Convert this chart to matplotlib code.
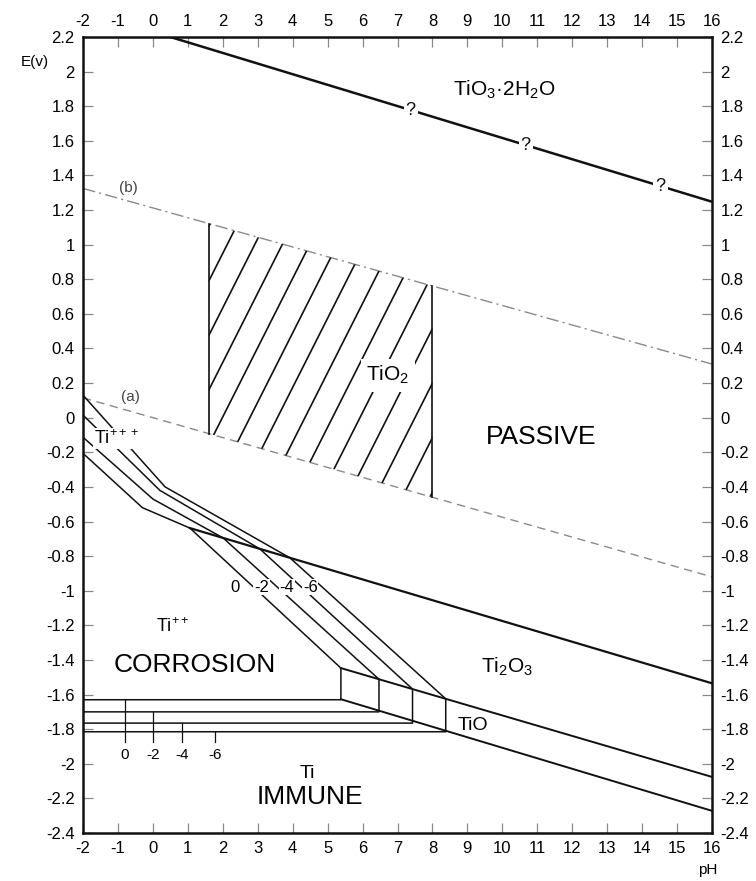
import matplotlib
matplotlib.use("Agg")
import matplotlib.pyplot as plt
import numpy as np
from matplotlib.patches import Polygon

plt.rcParams['font.family'] = ['Liberation Sans', 'DejaVu Sans']
plt.rcParams['axes.unicode_minus'] = False
plt.rcParams['mathtext.fontset'] = 'custom'
plt.rcParams['mathtext.rm'] = 'Liberation Sans'
plt.rcParams['mathtext.it'] = 'Liberation Sans'

# axes
ph_ticks = list(range(-2, 17))
e_ticks = [round(2.2 - 0.2 * i, 1) for i in range(24)]

# water lines (a) and (b)
line_a_ph = [-2, 16]
line_a_e = [0.115, -0.92]
line_b_ph = [-2, 16]
line_b_e = [1.325, 0.31]

# TiO3.2H2O boundary, with "?" marks
top_ph = [0.5, 16]
top_e = [2.2, 1.248]
q_ph = [7.38, 10.67, 14.52]

# hatched TiO2 zone limits
hatch_ph = [1.6, 8.0]

# Ti2O3 / TiO2 boundary
ti2o3_ph = [1.06, 16]
ti2o3_e = [-0.638, -1.535]

# TiO strip
tio_up_ph = [5.38, 16]
tio_up_e = [-1.447, -2.076]
tio_lo_ph = [5.38, 16]
tio_lo_e = [-1.627, -2.272]

# concentration lines, log c = 0, -2, -4, -6
conc = ['0', '-2', '-4', '-6']
c_start_e = [-0.206, -0.113, 0.015, 0.13]
c_kink_ph = [-0.3, 0.0, 0.2, 0.35]
c_kink_e = [-0.52, -0.47, -0.42, -0.40]
c_cross_ph = [1.06, 2.01, 3.06, 3.92]
c_vert_ph = [5.38, 6.47, 7.43, 8.38]
c_horiz_e = [-1.63, -1.70, -1.765, -1.815]
c_tick_ph = [-0.8, 0.0, 0.83, 1.78]
c_lab_ph = [2.35, 3.11, 3.83, 4.50]
c_lab_e = -0.98


def at(ph, xs, ys):
    return float(np.interp(ph, xs, ys))


fig = plt.figure(figsize=(7.56, 8.81), dpi=100)
ax = fig.add_axes([0.1098, 0.0545, 0.832, 0.9035])
ax.set_xlim(-2, 16)
ax.set_ylim(-2.4, 2.2)

black = '#111111'
grey = '#8a8a8a'

# top line
ax.plot(top_ph, top_e, color=black, lw=1.8, solid_capstyle='butt')
for q in q_ph:
    ax.text(q, at(q, top_ph, top_e), '?', ha='center', va='center', fontsize=13,
            color=black, bbox=dict(fc='white', ec='none', pad=1.5))

# water lines
ax.plot(line_b_ph, line_b_e, color=grey, lw=1.0, ls=(0, (9, 3, 1.5, 3)))
ax.plot(line_a_ph, line_a_e, color=grey, lw=1.0, ls=(0, (6, 4)))

# hatched TiO2 zone
x0, x1 = hatch_ph
poly = Polygon([(x0, at(x0, line_a_ph, line_a_e)), (x0, at(x0, line_b_ph, line_b_e)),
                (x1, at(x1, line_b_ph, line_b_e)), (x1, at(x1, line_a_ph, line_a_e))],
               closed=True, fc='none', ec='none')
ax.add_patch(poly)
for xv in hatch_ph:
    ax.plot([xv, xv], [at(xv, line_a_ph, line_a_e), at(xv, line_b_ph, line_b_e)],
            color=black, lw=1.2)
hx = np.array([x0, x1])
for k in range(-12, 5):
    ln, = ax.plot(hx, 0.16 + 0.315 * k + 0.40 * (hx - x0), color=black, lw=1.2)
    ln.set_clip_path(poly)

# Ti2O3 / TiO2 boundary
ax.plot(ti2o3_ph, ti2o3_e, color=black, lw=1.6)

# TiO strip
ax.plot(tio_up_ph, tio_up_e, color=black, lw=1.4)
ax.plot(tio_lo_ph, tio_lo_e, color=black, lw=1.4)

# concentration lines
for i in range(4):
    xc = c_cross_ph[i]
    xv = c_vert_ph[i]
    xs = [-2, c_kink_ph[i], xc, xv, xv, -2]
    ys = [c_start_e[i], c_kink_e[i], at(xc, ti2o3_ph, ti2o3_e),
          at(xv, tio_up_ph, tio_up_e), c_horiz_e[i], c_horiz_e[i]]
    ax.plot(xs, ys, color=black, lw=1.1)
    ax.plot([c_tick_ph[i], c_tick_ph[i]], [c_horiz_e[i], -1.875], color=black, lw=0.9)
    ax.text(c_tick_ph[i], -1.95, conc[i], ha='center', va='center', fontsize=11)
    ax.text(c_lab_ph[i], c_lab_e, conc[i], ha='center', va='center', fontsize=12,
            bbox=dict(fc='white', ec='none', pad=0.5))

# labels
ax.text(-0.71, 1.33, '(b)', ha='center', va='center', fontsize=11, color='#444444')
ax.text(-0.65, 0.12, '(a)', ha='center', va='center', fontsize=11, color='#444444')
ax.text(10.06, 1.895, 'TiO$_3$\u00b72H$_2$O', ha='center', va='center', fontsize=15)
ax.text(6.73, 0.245, 'TiO$_2$', ha='center', va='center', fontsize=15,
        bbox=dict(fc='white', ec='none', pad=4))
ax.text(11.1, -0.11, 'PASSIVE', ha='center', va='center', fontsize=19)
ax.text(-1.03, -0.12, 'Ti$^{+++}$', ha='center', va='center', fontsize=13,
        bbox=dict(fc='white', ec='none', pad=1.0))
ax.text(0.58, -1.21, 'Ti$^{++}$', ha='center', va='center', fontsize=13)
ax.text(1.2, -1.43, 'CORROSION', ha='center', va='center', fontsize=19)
ax.text(10.13, -1.44, 'Ti$_2$O$_3$', ha='center', va='center', fontsize=15)
ax.text(9.16, -1.777, 'TiO', ha='center', va='center', fontsize=14)
ax.text(4.41, -2.056, 'Ti', ha='center', va='center', fontsize=14)
ax.text(4.5, -2.19, 'IMMUNE', ha='center', va='center', fontsize=19)

# ticks
ax.set_xticks(ph_ticks)
ax.set_xticklabels([str(t) for t in ph_ticks])
ax.set_yticks(e_ticks)
ax.set_yticklabels(['%g' % t for t in e_ticks])
ax.tick_params(direction='in', length=7, width=0.9, color=grey, labelsize=12,
               top=True, right=True, labeltop=True, labelright=True, pad=6)
for s in ax.spines.values():
    s.set_linewidth(1.8)
    s.set_color(black)

fig.text(35 / 756, 1 - 62 / 881, 'E(v)', ha='center', va='center', fontsize=11)
fig.text(708 / 756, 1 - 870 / 881, 'pH', ha='center', va='center', fontsize=11)

fig.savefig('out.png', dpi=100)
